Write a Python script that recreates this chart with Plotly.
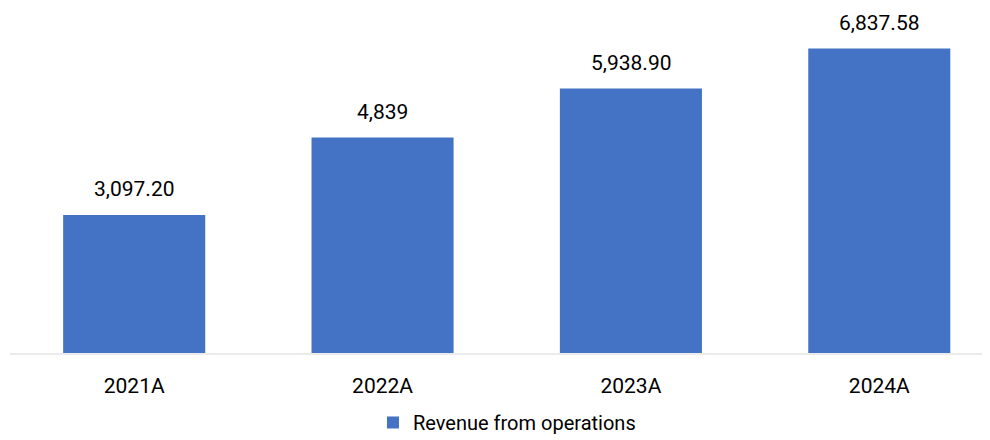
import plotly.graph_objects as go

categories = ["2021A", "2022A", "2023A", "2024A"]
revenue = [3097.20, 4839, 5938.90, 6837.58]
value_labels = ["3,097.20", "4,839", "5,938.90", "6,837.58"]
series_name = "Revenue from operations"

BLUE = "#4472C4"
FONT = "Roboto"

fig = go.Figure()
fig.add_trace(go.Bar(
    x=categories, y=revenue, name=series_name,
    marker=dict(color=BLUE, line=dict(width=0)),
    showlegend=True,
))

for c, v, t in zip(categories, revenue, value_labels):
    fig.add_annotation(x=c, y=v, text=t, showarrow=False, yanchor="bottom",
                       yshift=12, font=dict(family=FONT, size=21, color="#000000"))

fig.update_layout(
    width=990, height=440,
    margin=dict(l=2, r=0, t=0, b=95),
    paper_bgcolor="white", plot_bgcolor="white",
    bargap=0.428,
    font=dict(family=FONT, size=20, color="#000000"),
    xaxis=dict(type="category", range=[-0.5, 3.478], showline=True,
               linecolor="#ebebeb", linewidth=2, showgrid=False,
               ticks="outside", tickcolor="rgba(0,0,0,0)", ticklen=13,
               tickfont=dict(family=FONT, size=21, color="#000000")),
    yaxis=dict(range=[0, 7748], visible=False, showgrid=False, zeroline=False),
    showlegend=True,
    legend=dict(orientation="h", x=0.503, xanchor="center",
                yref="container", y=0.058, yanchor="middle",
                font=dict(family=FONT, size=20, color="#000000"),
                itemwidth=30, bgcolor="rgba(0,0,0,0)"),
)

fig.write_html("out.html")
